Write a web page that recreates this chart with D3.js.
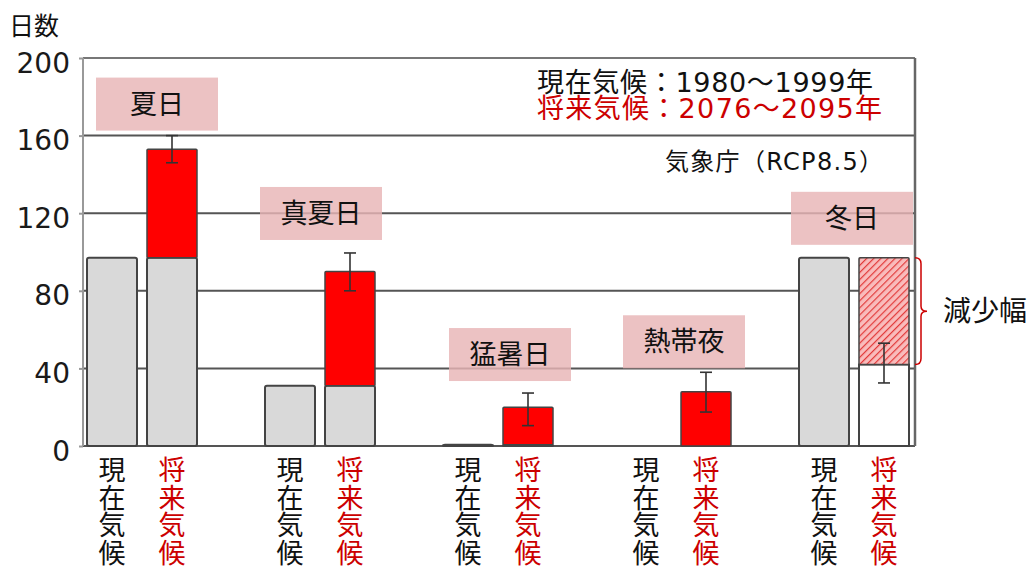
<!DOCTYPE html>
<html>
<head>
<meta charset="utf-8">
<script src="https://cdn.jsdelivr.net/npm/d3@7"></script>
<style>
body { margin: 0; background: #fff; }
svg text { font-family: "Noto Sans CJK JP", "Noto Sans", sans-serif; }
</style>
</head>
<body>
<script>
// data (days per year)
var groups = ["夏日", "真夏日", "猛暑日", "熱帯夜", "冬日"];
var currentDays = [97, 31, 0.6, 0, 97];
var futureDays = [153, 90, 20, 28, 42];
var errLow = [146, 80, 10.5, 17.5, 32.5];
var errHigh = [160, 99.5, 27.3, 38, 53];
var yTicks = [0, 40, 80, 120, 160, 200];
var currentLabel = "現在気候";
var futureLabel = "将来気候";

// layout of the pink label boxes (offsets from group centre / top of the marks)
var boxDx = [15, 1, 12, 8, -2];
var boxGap = [5, 13, 12, 4, 13];

var width = 1036, height = 570;
var RED = "#cc0000";
var MIXED_FONT = "'DejaVu Sans', 'Noto Sans CJK JP', sans-serif";

var svg = d3.select("body").append("svg")
    .attr("width", width)
    .attr("height", height);

var defs = svg.append("defs");
var pat = defs.append("pattern")
    .attr("id", "hatch")
    .attr("patternUnits", "userSpaceOnUse")
    .attr("width", 5)
    .attr("height", 5)
    .attr("patternTransform", "rotate(45)");
pat.append("rect").attr("width", 5).attr("height", 5).attr("fill", "#f9bcbc");
pat.append("line")
    .attr("x1", 0).attr("y1", 0).attr("x2", 0).attr("y2", 5)
    .attr("stroke", "#e23a3a").attr("stroke-width", 2.4);

var plotLeft = 83, plotRight = 915;

var y = d3.scaleLinear().domain([0, 200]).range([446, 58]);
var x0 = d3.scaleBand().domain(groups).range([53, 943]);
var x1 = d3.scaleBand().domain(["current", "future"]).range([-55, 55]).paddingInner(1 / 6);

// horizontal grid lines
svg.append("g")
    .selectAll("line")
    .data(yTicks)
    .join("line")
    .attr("x1", plotLeft)
    .attr("x2", plotRight)
    .attr("y1", d => y(d))
    .attr("y2", d => y(d))
    .attr("stroke", d => d == 200 ? "#777" : "#555")
    .attr("stroke-width", 2);

// left / right frame
svg.append("line")
    .attr("x1", plotLeft).attr("x2", plotLeft)
    .attr("y1", y(200)).attr("y2", y(0))
    .attr("stroke", "#999").attr("stroke-width", 2);
svg.append("line")
    .attr("x1", plotRight).attr("x2", plotRight)
    .attr("y1", y(200)).attr("y2", y(0))
    .attr("stroke", "#666").attr("stroke-width", 2.5);

// y axis
var yAxis = d3.axisLeft(y).tickValues(yTicks).tickSize(4).tickPadding(9);
var gy = svg.append("g")
    .attr("transform", "translate(" + plotLeft + ",0)")
    .call(yAxis);
gy.select(".domain").remove();
gy.selectAll(".tick line").attr("stroke", "#999").attr("stroke-width", 2);
gy.selectAll(".tick text")
    .attr("font-size", "28px")
    .attr("fill", "#1a1a1a")
    .attr("dy", "0.5em")
    .style("font-family", "'DejaVu Sans', sans-serif");

svg.append("text")
    .attr("x", 9)
    .attr("y", 35)
    .attr("font-size", "25px")
    .attr("fill", "#111")
    .text("日数");

// bars
var bars = svg.append("g");
var BAR_STROKE = "#444";

groups.forEach(function(g, i) {
    var cx = x0(g) + x0.bandwidth() / 2;
    var xc = cx + x1("current"), xf = cx + x1("future"), bw = x1.bandwidth();

    if (currentDays[i] > 0)
	bars.append("rect")
	    .attr("x", xc).attr("y", y(currentDays[i]))
	    .attr("width", bw).attr("height", y(0) - y(currentDays[i]))
	    .attr("rx", 2)
	    .attr("fill", "#d9d9d9").attr("stroke", BAR_STROKE).attr("stroke-width", 2);

    if (futureDays[i] >= currentDays[i]) {
	if (currentDays[i] > 0)
	    bars.append("rect")
		.attr("x", xf).attr("y", y(currentDays[i]))
		.attr("width", bw).attr("height", y(0) - y(currentDays[i]))
		.attr("rx", 2)
		.attr("fill", "#d9d9d9").attr("stroke", BAR_STROKE).attr("stroke-width", 2);
	bars.append("rect")
	    .attr("x", xf).attr("y", y(futureDays[i]))
	    .attr("width", bw).attr("height", y(currentDays[i]) - y(futureDays[i]))
	    .attr("rx", 1)
	    .attr("fill", "#ff0000").attr("stroke", BAR_STROKE).attr("stroke-width", 1.5);
    } else {
	bars.append("rect")
	    .attr("x", xf).attr("y", y(futureDays[i]))
	    .attr("width", bw).attr("height", y(0) - y(futureDays[i]))
	    .attr("fill", "#fff").attr("stroke", BAR_STROKE).attr("stroke-width", 2);
	bars.append("rect")
	    .attr("x", xf).attr("y", y(currentDays[i]))
	    .attr("width", bw).attr("height", y(futureDays[i]) - y(currentDays[i]))
	    .attr("rx", 1)
	    .attr("fill", "url(#hatch)").attr("stroke", BAR_STROKE).attr("stroke-width", 1.5);

	// bracket for the decrease
	var bx = xf + bw + 12, t = y(currentDays[i]), b = y(futureDays[i]), m = (t + b) / 2;
	svg.append("path")
	    .attr("d", "M" + (bx - 6) + "," + t + " Q" + bx + "," + t + " " + bx + "," + (t + 6) +
		  " L" + bx + "," + (m - 5) + " Q" + bx + "," + m + " " + (bx + 6) + "," + m +
		  " Q" + bx + "," + m + " " + bx + "," + (m + 5) +
		  " L" + bx + "," + (b - 6) + " Q" + bx + "," + b + " " + (bx - 6) + "," + b)
	    .attr("fill", "none").attr("stroke", RED).attr("stroke-width", 1.5);
	svg.append("text")
	    .attr("x", bx + 22)
	    .attr("y", m + 10)
	    .attr("font-size", "28px")
	    .attr("fill", "#111")
	    .text("減少幅");
    }

    // error bar
    var ex = xf + bw / 2;
    var eb = bars.append("g").attr("stroke", "#333").attr("stroke-width", 1.6);
    eb.append("line").attr("x1", ex).attr("x2", ex).attr("y1", y(errLow[i])).attr("y2", y(errHigh[i]));
    eb.append("line").attr("x1", ex - 6).attr("x2", ex + 6).attr("y1", y(errLow[i])).attr("y2", y(errLow[i]));
    eb.append("line").attr("x1", ex - 6).attr("x2", ex + 6).attr("y1", y(errHigh[i])).attr("y2", y(errHigh[i]));

    // pink category box
    var topY = y(Math.max(errHigh[i], currentDays[i], futureDays[i])) - boxGap[i];
    var bcx = cx + boxDx[i];
    svg.append("rect")
	.attr("x", bcx - 61).attr("y", topY - 53)
	.attr("width", 122).attr("height", 53)
	.attr("fill", "#e8b4b6").attr("opacity", 0.82);
    svg.append("text")
	.attr("x", bcx)
	.attr("y", topY - 17)
	.attr("text-anchor", "middle")
	.attr("font-size", "27px")
	.attr("fill", "#111")
	.text(g);

    // vertical x labels, one character per line
    [[currentLabel, xc, "#111"], [futureLabel, xf, RED]].forEach(function(l) {
	svg.append("g")
	    .selectAll("text")
	    .data(l[0].split(""))
	    .join("text")
	    .attr("x", l[1] + bw / 2)
	    .attr("y", (d, k) => 480 + k * 27.5)
	    .attr("text-anchor", "middle")
	    .attr("font-size", "27px")
	    .attr("fill", l[2])
	    .text(d => d);
    });
});

// legend
svg.append("text")
    .attr("x", 537).attr("y", 92)
    .attr("font-size", "27px").attr("fill", "#111")
    .style("font-family", MIXED_FONT)
    .attr("textLength", 336).attr("lengthAdjust", "spacing")
    .text("現在気候：1980～1999年");
svg.append("text")
    .attr("x", 537).attr("y", 118)
    .attr("font-size", "27px").attr("fill", RED)
    .style("font-family", MIXED_FONT)
    .attr("textLength", 345).attr("lengthAdjust", "spacing")
    .text("将来気候：2076～2095年");
svg.append("text")
    .attr("x", 665).attr("y", 170)
    .attr("font-size", "24px").attr("fill", "#111")
    .style("font-family", MIXED_FONT)
    .attr("textLength", 218).attr("lengthAdjust", "spacing")
    .text("気象庁（RCP8.5）");
</script>
</body>
</html>
